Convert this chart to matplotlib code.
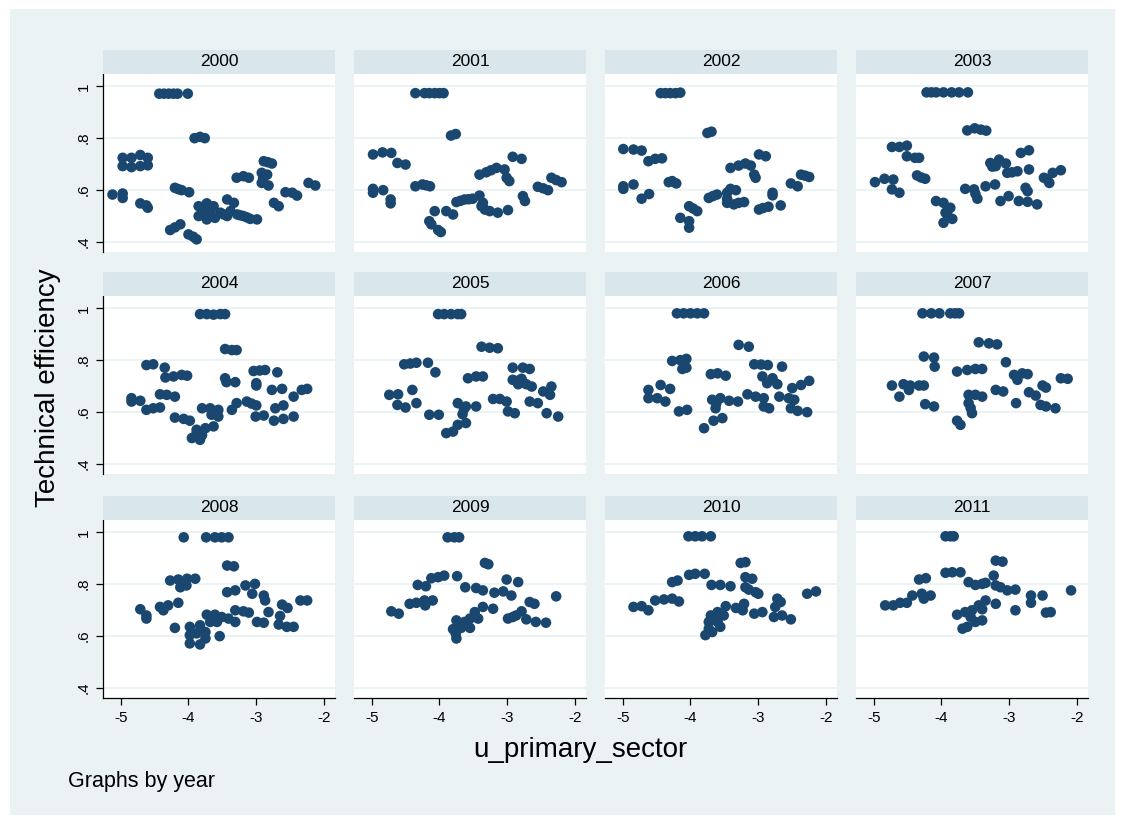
import numpy as np
import matplotlib.pyplot as plt
from matplotlib.patches import Rectangle

plt.rcParams['font.family'] = ['Liberation Sans', 'DejaVu Sans']

years = [2000, 2001, 2002, 2003, 2004, 2005, 2006, 2007, 2008, 2009, 2010, 2011]

# (u_primary_sector, technical efficiency)
pts_2000 = [(-4.43, 0.972), (-4.36, 0.972), (-4.29, 0.972), (-4.22, 0.972), (-4.16, 0.972), (-4.01, 0.972),
            (-3.91, 0.80), (-3.83, 0.805), (-3.76, 0.80),
            (-4.97, 0.724), (-4.84, 0.724), (-4.71, 0.735), (-4.60, 0.724), (-4.97, 0.692), (-4.84, 0.688),
            (-4.71, 0.692), (-4.60, 0.695),
            (-5.12, 0.582), (-4.97, 0.586), (-4.97, 0.569),
            (-4.71, 0.548), (-4.62, 0.54), (-4.60, 0.531),
            (-4.20, 0.608), (-4.15, 0.603), (-4.10, 0.599), (-3.99, 0.591),
            (-4.27, 0.445), (-4.12, 0.467), (-4.20, 0.455), (-4.0, 0.428), (-3.93, 0.419), (-3.88, 0.409),
            (-3.85, 0.537), (-3.73, 0.548), (-3.63, 0.537), (-3.85, 0.499), (-3.73, 0.486), (-3.61, 0.492),
            (-3.78, 0.518), (-3.68, 0.512), (-3.80, 0.53),
            (-3.43, 0.563), (-3.33, 0.55), (-3.38, 0.518), (-3.28, 0.505), (-3.43, 0.499), (-3.53, 0.512),
            (-3.19, 0.499), (-3.09, 0.488), (-2.99, 0.486), (-3.48, 0.505), (-3.24, 0.502), (-3.14, 0.494),
            (-3.29, 0.647), (-3.19, 0.653), (-3.11, 0.647),
            (-2.89, 0.711), (-2.77, 0.702), (-2.83, 0.707),
            (-2.92, 0.666), (-2.84, 0.659), (-2.92, 0.627), (-2.82, 0.617), (-2.90, 0.645),
            (-2.74, 0.55), (-2.67, 0.537),
            (-2.57, 0.591), (-2.47, 0.589), (-2.40, 0.578),
            (-2.23, 0.627), (-2.13, 0.617)]

pts_2001 = [(-4.355, 0.974), (-4.22, 0.974), (-4.15, 0.974), (-4.07, 0.974), (-4.0, 0.974), (-3.94, 0.974),
            (-3.83, 0.81), (-3.76, 0.816),
            (-4.98, 0.737), (-4.84, 0.745), (-4.71, 0.743),
            (-4.62, 0.704), (-4.50, 0.698),
            (-4.98, 0.604), (-4.98, 0.589), (-4.83, 0.599),
            (-4.72, 0.563), (-4.72, 0.548),
            (-4.355, 0.614), (-4.25, 0.621), (-4.14, 0.614), (-4.20, 0.618),
            (-4.07, 0.518), (-3.90, 0.518), (-3.80, 0.505),
            (-4.15, 0.479), (-4.12, 0.467), (-4.02, 0.445), (-3.98, 0.437),
            (-3.75, 0.553), (-3.63, 0.563), (-3.51, 0.566), (-3.41, 0.578), (-3.69, 0.558), (-3.57, 0.564),
            (-3.38, 0.537), (-3.33, 0.524), (-3.26, 0.518), (-3.14, 0.512), (-2.99, 0.522), (-3.36, 0.55),
            (-3.41, 0.659), (-3.31, 0.668), (-3.16, 0.685), (-3.04, 0.679), (-3.24, 0.676),
            (-3.01, 0.647), (-2.97, 0.634),
            (-2.92, 0.728), (-2.79, 0.72),
            (-2.77, 0.576), (-2.74, 0.557),
            (-2.55, 0.612), (-2.40, 0.599), (-2.47, 0.606),
            (-2.35, 0.647), (-2.20, 0.63), (-2.28, 0.638)]

pts_2002 = [(-4.44, 0.974), (-4.37, 0.974), (-4.30, 0.974), (-4.22, 0.974), (-4.15, 0.976),
            (-3.75, 0.82), (-3.69, 0.825),
            (-4.99, 0.758), (-4.84, 0.756), (-4.72, 0.752),
            (-4.62, 0.711), (-4.52, 0.72), (-4.42, 0.722),
            (-4.99, 0.614), (-4.99, 0.604), (-4.84, 0.621),
            (-4.72, 0.566), (-4.61, 0.584),
            (-4.32, 0.63), (-4.27, 0.634), (-4.21, 0.625),
            (-4.15, 0.492), (-4.02, 0.537), (-3.96, 0.528), (-3.90, 0.518), (-4.02, 0.479), (-4.02, 0.454),
            (-3.73, 0.569), (-3.61, 0.582), (-3.46, 0.589), (-3.41, 0.604), (-3.33, 0.599), (-3.67, 0.576),
            (-3.46, 0.55), (-3.46, 0.566), (-3.36, 0.544), (-3.21, 0.553), (-3.29, 0.55),
            (-3.41, 0.685), (-3.29, 0.694), (-3.19, 0.702), (-3.11, 0.694),
            (-3.06, 0.659), (-3.04, 0.647),
            (-2.99, 0.737), (-2.89, 0.73),
            (-2.79, 0.589), (-2.79, 0.579),
            (-2.99, 0.524), (-2.85, 0.535), (-2.67, 0.54), (-2.93, 0.53),
            (-2.52, 0.625), (-2.42, 0.614),
            (-2.37, 0.659), (-2.25, 0.65), (-2.31, 0.655)]

pts_2003 = [(-4.22, 0.977), (-4.15, 0.977), (-4.08, 0.977), (-3.97, 0.977), (-3.85, 0.977), (-3.74, 0.977),
            (-3.61, 0.977),
            (-3.62, 0.83), (-3.51, 0.838), (-3.42, 0.833), (-3.34, 0.829),
            (-4.73, 0.766), (-4.62, 0.766), (-4.51, 0.771),
            (-4.51, 0.73), (-4.39, 0.724), (-4.33, 0.724),
            (-4.36, 0.656), (-4.30, 0.648), (-4.24, 0.643),
            (-4.98, 0.63), (-4.84, 0.643), (-4.71, 0.64),
            (-4.73, 0.602), (-4.62, 0.589),
            (-4.08, 0.557), (-3.97, 0.55), (-3.87, 0.531), (-3.94, 0.512), (-3.84, 0.488), (-3.97, 0.473),
            (-3.91, 0.52), (-3.90, 0.495),
            (-3.65, 0.604), (-3.52, 0.602), (-3.50, 0.585), (-3.47, 0.566),
            (-3.35, 0.614), (-3.21, 0.621),
            (-3.28, 0.704), (-3.15, 0.717), (-3.05, 0.702), (-3.20, 0.692), (-3.25, 0.69),
            (-3.03, 0.666), (-2.88, 0.672), (-2.71, 0.679), (-2.96, 0.668),
            (-2.83, 0.743), (-2.71, 0.753),
            (-2.76, 0.608), (-2.73, 0.595),
            (-3.13, 0.557), (-3.01, 0.576),
            (-2.86, 0.557), (-2.73, 0.554), (-2.59, 0.544),
            (-2.49, 0.647), (-2.41, 0.627), (-2.36, 0.666), (-2.24, 0.676), (-2.44, 0.64)]

pts_2004 = [(-3.83, 0.978), (-3.73, 0.978), (-3.63, 0.976), (-3.53, 0.978), (-3.46, 0.978),
            (-3.46, 0.843), (-3.36, 0.839), (-3.29, 0.839),
            (-4.62, 0.781), (-4.52, 0.784), (-4.35, 0.771),
            (-4.34, 0.733), (-4.22, 0.737), (-4.10, 0.743), (-4.02, 0.74),
            (-3.46, 0.73), (-3.44, 0.715), (-3.31, 0.715),
            (-3.04, 0.758), (-2.87, 0.762), (-2.69, 0.753), (-2.95, 0.76),
            (-3.0, 0.711), (-3.0, 0.702),
            (-2.77, 0.685), (-2.62, 0.689),
            (-2.45, 0.659), (-2.33, 0.685), (-2.25, 0.689),
            (-4.84, 0.653), (-4.84, 0.64), (-4.71, 0.643),
            (-4.62, 0.608), (-4.52, 0.614), (-4.42, 0.617),
            (-4.42, 0.668), (-4.32, 0.666), (-4.20, 0.659),
            (-4.20, 0.578), (-4.07, 0.573), (-3.98, 0.566),
            (-3.88, 0.531), (-3.75, 0.537), (-3.63, 0.544),
            (-3.95, 0.499), (-3.83, 0.492), (-3.88, 0.518), (-3.80, 0.51),
            (-3.80, 0.614), (-3.68, 0.614), (-3.56, 0.608), (-3.66, 0.589), (-3.56, 0.582),
            (-3.36, 0.608), (-3.29, 0.634), (-3.14, 0.64), (-3.0, 0.625), (-3.07, 0.632),
            (-3.01, 0.582), (-2.89, 0.586),
            (-2.72, 0.614), (-2.60, 0.625),
            (-2.74, 0.566), (-2.60, 0.573), (-2.45, 0.582)]

pts_2005 = [(-4.02, 0.978), (-3.93, 0.978), (-3.83, 0.978), (-3.73, 0.978), (-3.68, 0.978),
            (-3.38, 0.852), (-3.26, 0.848), (-3.14, 0.846),
            (-4.52, 0.784), (-4.34, 0.79), (-4.17, 0.79), (-4.43, 0.787),
            (-4.06, 0.753),
            (-3.58, 0.73), (-3.46, 0.737), (-3.36, 0.737),
            (-2.92, 0.771), (-2.77, 0.771), (-2.67, 0.766),
            (-2.92, 0.724), (-2.79, 0.728), (-2.72, 0.707), (-2.64, 0.698), (-2.84, 0.707), (-2.86, 0.72),
            (-4.74, 0.666), (-4.61, 0.668), (-4.62, 0.627), (-4.50, 0.617),
            (-4.40, 0.685), (-4.34, 0.634),
            (-4.15, 0.589), (-4.01, 0.589),
            (-3.90, 0.518), (-3.80, 0.524), (-3.73, 0.55), (-3.61, 0.557),
            (-3.73, 0.634), (-3.61, 0.621), (-3.46, 0.621), (-3.66, 0.591), (-3.64, 0.61),
            (-3.21, 0.65), (-3.11, 0.65), (-3.01, 0.64),
            (-2.99, 0.602), (-2.89, 0.595),
            (-2.67, 0.64), (-2.55, 0.634),
            (-2.47, 0.679), (-2.35, 0.698), (-2.37, 0.666),
            (-2.42, 0.595), (-2.25, 0.582)]

pts_2006 = [(-4.20, 0.981), (-4.10, 0.981), (-4.0, 0.981), (-3.90, 0.981), (-3.80, 0.981),
            (-3.29, 0.859), (-3.14, 0.852),
            (-4.27, 0.797), (-4.15, 0.80), (-4.06, 0.805), (-4.12, 0.766), (-4.06, 0.771),
            (-3.70, 0.746), (-3.60, 0.749), (-3.48, 0.74),
            (-3.06, 0.784), (-2.86, 0.781), (-2.65, 0.775), (-2.96, 0.783),
            (-2.94, 0.737), (-2.79, 0.73), (-2.72, 0.707), (-2.87, 0.711),
            (-2.50, 0.692), (-2.37, 0.704), (-2.25, 0.72),
            (-4.62, 0.685), (-4.44, 0.704), (-4.30, 0.689),
            (-4.62, 0.653), (-4.49, 0.653), (-4.37, 0.64),
            (-4.17, 0.602), (-4.05, 0.608),
            (-3.80, 0.537), (-3.66, 0.566), (-3.53, 0.576),
            (-3.68, 0.647), (-3.56, 0.653), (-3.63, 0.614), (-3.43, 0.643), (-3.30, 0.64), (-3.62, 0.632),
            (-3.16, 0.668), (-3.04, 0.659), (-2.92, 0.653),
            (-2.92, 0.621), (-2.84, 0.614),
            (-2.69, 0.659), (-2.55, 0.653), (-2.47, 0.647),
            (-2.52, 0.614), (-2.42, 0.604), (-2.28, 0.599)]

pts_2007 = [(-4.28, 0.981), (-4.15, 0.981), (-4.03, 0.981), (-3.87, 0.981), (-3.80, 0.981), (-3.74, 0.981),
            (-3.45, 0.869), (-3.30, 0.865), (-3.18, 0.861),
            (-3.05, 0.792),
            (-4.26, 0.814), (-4.11, 0.81), (-4.10, 0.775),
            (-3.77, 0.756), (-3.62, 0.762), (-3.50, 0.766), (-3.40, 0.766),
            (-2.93, 0.743), (-2.81, 0.749), (-2.73, 0.746), (-2.88, 0.724),
            (-2.24, 0.73), (-2.14, 0.728),
            (-4.73, 0.702), (-4.56, 0.707), (-4.46, 0.702), (-4.33, 0.702), (-4.26, 0.702), (-4.48, 0.685),
            (-4.62, 0.659),
            (-4.24, 0.63), (-4.11, 0.621),
            (-3.77, 0.566), (-3.72, 0.55),
            (-3.60, 0.666), (-3.50, 0.666), (-3.40, 0.659), (-3.60, 0.634), (-3.57, 0.615), (-3.55, 0.595),
            (-3.20, 0.685), (-3.09, 0.679),
            (-2.90, 0.634),
            (-2.71, 0.676), (-2.61, 0.663),
            (-2.51, 0.702), (-2.46, 0.694),
            (-2.54, 0.627), (-2.46, 0.621), (-2.32, 0.614)]

pts_2008 = [(-4.07, 0.981), (-3.74, 0.981), (-3.61, 0.981), (-3.51, 0.981), (-3.41, 0.981),
            (-3.43, 0.872), (-3.33, 0.869),
            (-4.27, 0.814), (-4.15, 0.818), (-4.02, 0.821), (-3.90, 0.821), (-4.12, 0.788), (-4.03, 0.795),
            (-3.43, 0.769), (-3.31, 0.776),
            (-3.16, 0.795), (-3.02, 0.801),
            (-3.06, 0.763), (-2.89, 0.756), (-2.87, 0.737),
            (-4.42, 0.712), (-4.30, 0.718), (-4.15, 0.728), (-4.37, 0.699),
            (-4.71, 0.703), (-4.62, 0.679), (-4.62, 0.667),
            (-4.20, 0.631),
            (-3.98, 0.635), (-3.83, 0.641), (-3.98, 0.603), (-3.98, 0.571), (-3.83, 0.567), (-3.75, 0.59),
            (-3.75, 0.615), (-3.88, 0.61),
            (-3.54, 0.599),
            (-3.73, 0.682), (-3.61, 0.682), (-3.51, 0.673), (-3.68, 0.654), (-3.58, 0.654), (-3.41, 0.667),
            (-3.31, 0.654),
            (-3.31, 0.699), (-3.19, 0.695), (-3.11, 0.69),
            (-2.99, 0.654), (-2.89, 0.651),
            (-2.82, 0.692), (-2.65, 0.677),
            (-2.62, 0.721), (-2.54, 0.708),
            (-2.67, 0.644), (-2.55, 0.635), (-2.45, 0.635),
            (-2.35, 0.737), (-2.25, 0.737)]

pts_2009 = [(-3.88, 0.981), (-3.78, 0.981), (-3.71, 0.981),
            (-3.33, 0.882), (-3.28, 0.877),
            (-3.74, 0.831),
            (-4.32, 0.797), (-4.20, 0.792), (-4.12, 0.823), (-4.02, 0.827), (-3.93, 0.833),
            (-3.62, 0.788), (-3.46, 0.785), (-3.36, 0.776),
            (-3.01, 0.818), (-2.84, 0.808),
            (-3.19, 0.767), (-3.06, 0.772), (-2.94, 0.756),
            (-4.44, 0.724), (-4.34, 0.728), (-4.22, 0.737), (-4.10, 0.737), (-4.21, 0.718),
            (-4.71, 0.695), (-4.60, 0.686),
            (-2.67, 0.731), (-2.60, 0.724),
            (-2.28, 0.753),
            (-2.79, 0.695), (-2.87, 0.679),
            (-2.99, 0.667), (-2.92, 0.673),
            (-2.72, 0.664), (-2.58, 0.654), (-2.43, 0.651),
            (-3.36, 0.712), (-3.21, 0.705), (-3.48, 0.692), (-3.43, 0.667), (-3.55, 0.667),
            (-3.75, 0.660), (-3.63, 0.654), (-3.80, 0.626), (-3.68, 0.631), (-3.55, 0.631), (-3.75, 0.59),
            (-3.76, 0.609)]

pts_2010 = [(-4.03, 0.985), (-3.93, 0.985), (-3.83, 0.985), (-3.70, 0.985),
            (-3.26, 0.882), (-3.19, 0.885),
            (-3.19, 0.827), (-3.09, 0.821),
            (-4.02, 0.836), (-3.93, 0.84), (-3.79, 0.84),
            (-4.27, 0.808), (-4.19, 0.814),
            (-3.69, 0.797), (-3.56, 0.797), (-3.41, 0.792),
            (-3.19, 0.788), (-3.14, 0.779),
            (-3.04, 0.769), (-3.00, 0.763),
            (-4.84, 0.712), (-4.72, 0.715), (-4.62, 0.699),
            (-4.52, 0.737), (-4.39, 0.741), (-4.27, 0.744), (-4.17, 0.733),
            (-2.72, 0.744), (-2.67, 0.731), (-2.75, 0.712),
            (-2.28, 0.763), (-2.15, 0.772),
            (-3.06, 0.686), (-2.94, 0.692),
            (-2.77, 0.673), (-2.65, 0.679), (-2.52, 0.664),
            (-3.48, 0.715), (-3.33, 0.708), (-3.21, 0.724), (-3.23, 0.699),
            (-3.70, 0.679), (-3.60, 0.692), (-3.51, 0.679), (-3.73, 0.654), (-3.60, 0.654), (-3.56, 0.635),
            (-3.73, 0.628), (-3.68, 0.615), (-3.78, 0.603), (-3.65, 0.665)]

pts_2011 = [(-3.94, 0.985), (-3.87, 0.985), (-3.82, 0.985),
            (-3.20, 0.891), (-3.10, 0.887),
            (-3.23, 0.833),
            (-3.94, 0.844), (-3.84, 0.846), (-3.72, 0.846),
            (-4.33, 0.818), (-4.23, 0.823),
            (-3.60, 0.808), (-3.50, 0.797), (-3.40, 0.801), (-3.35, 0.805),
            (-3.20, 0.795), (-3.13, 0.788),
            (-3.03, 0.776), (-2.91, 0.779),
            (-2.09, 0.776),
            (-4.83, 0.718), (-4.71, 0.718), (-4.61, 0.728), (-4.51, 0.728),
            (-4.43, 0.756), (-4.29, 0.763), (-4.16, 0.756), (-4.26, 0.744),
            (-2.68, 0.756), (-2.51, 0.756), (-2.68, 0.728),
            (-2.91, 0.699), (-2.46, 0.69), (-2.39, 0.692),
            (-3.35, 0.737), (-3.20, 0.724), (-3.45, 0.718), (-3.55, 0.699), (-3.40, 0.703),
            (-3.77, 0.682), (-3.65, 0.692), (-3.57, 0.673), (-3.40, 0.66), (-3.50, 0.654),
            (-3.69, 0.628), (-3.62, 0.635)]

panel_points = [pts_2000, pts_2001, pts_2002, pts_2003, pts_2004, pts_2005,
                pts_2006, pts_2007, pts_2008, pts_2009, pts_2010, pts_2011]

xticks = [-5, -4, -3, -2]
xtick_labels = ['-5', '-4', '-3', '-2']
yticks = [0.4, 0.6, 0.8, 1.0]
ytick_labels = ['.4', '.6', '.8', '1']

navy = '#1a476f'
bg = '#eaf2f3'
strip_col = '#d9e6eb'

W, H = 1125, 824
fig = plt.figure(figsize=(W / 100, H / 100), dpi=100)
fig.patch.set_facecolor('white')
fig.add_artist(Rectangle((10 / W, 9 / H), 1105 / W, 806 / H, transform=fig.transFigure,
                         facecolor=bg, edgecolor='none', zorder=0))

col_left = [103, 354, 605, 856]
row_top = [74, 296, 520]
pw, ph, sh = 232, 178, 24

for i, year in enumerate(years):
    r, c = divmod(i, 4)
    left, top = col_left[c], row_top[r]
    ax = fig.add_axes([left / W, 1 - (top + ph) / H, pw / W, ph / H])
    ax.set_facecolor('white')
    ax.set_xlim(-5.26, -1.84)
    ax.set_ylim(0.36, 1.048)
    for yt in yticks:
        ax.axhline(yt, color=bg, lw=1.3, zorder=1)

    pts = np.array(panel_points[i])
    ax.scatter(pts[:, 0], pts[:, 1], s=58, color=navy, edgecolors='none', zorder=3)

    for side in ['top', 'right', 'left', 'bottom']:
        ax.spines[side].set_visible(False)
    ax.spines['left'].set_visible(c == 0)
    ax.spines['bottom'].set_visible(r == 2)
    ax.spines['left'].set_linewidth(0.9)
    ax.spines['bottom'].set_linewidth(0.9)

    if c == 0:
        ax.set_yticks(yticks)
        ax.set_yticklabels(ytick_labels, rotation=90, va='center', fontsize=11)
    else:
        ax.set_yticks([])
    if r == 2:
        ax.set_xticks(xticks)
        ax.set_xticklabels(xtick_labels, fontsize=11)
    else:
        ax.set_xticks([])
    ax.tick_params(direction='out', length=5, width=0.9, pad=4)

    # strip title
    fig.add_artist(Rectangle((left / W, 1 - top / H), pw / W, sh / H, transform=fig.transFigure,
                             facecolor=strip_col, edgecolor='none'))
    fig.text((left + pw / 2) / W, 1 - (top - sh / 2) / H, str(year), ha='center', va='center',
             fontsize=12.5)

fig.text(48 / W, 1 - 388 / H, 'Technical efficiency', rotation=90, ha='center', va='center',
         fontsize=20)
fig.text(580 / W, 1 - 750 / H, 'u_primary_sector', ha='center', va='center', fontsize=20)
fig.text(68 / W, 1 - 782 / H, 'Graphs by year', ha='left', va='center', fontsize=15.5)

fig.savefig('out.png', dpi=100)
